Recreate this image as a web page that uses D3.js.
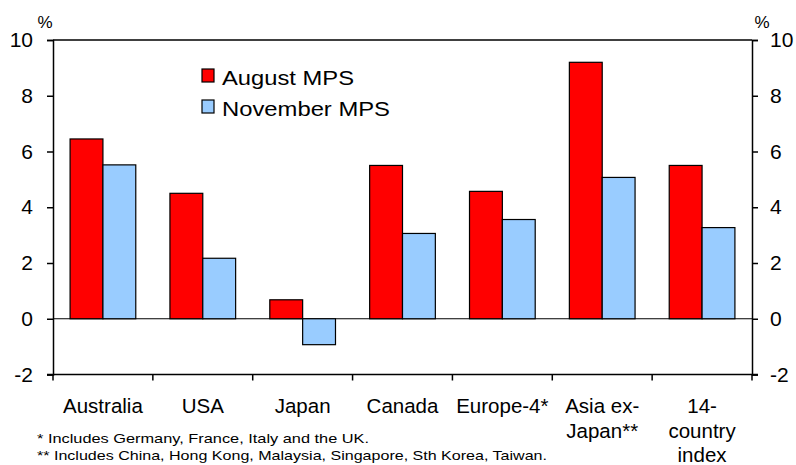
<!DOCTYPE html>
<html><head><meta charset="utf-8">
<script src="https://cdn.jsdelivr.net/npm/d3@7"></script>
<style>body{margin:0;background:#fff}svg{display:block}text{font-family:"Liberation Sans",Arial,sans-serif;fill:#000}</style>
</head><body><svg id="c" width="796" height="465"></svg>
<script>
const categories = ["Australia","USA","Japan","Canada","Europe-4*","Asia ex-\nJapan**","14-\ncountry\nindex"];
const august = [6.45, 4.5, 0.68, 5.5, 4.57, 9.2, 5.5];
const november = [5.52, 2.17, -0.93, 3.06, 3.56, 5.07, 3.27];
const seriesNames = ["August MPS","November MPS"];
const yTicks = [-2,0,2,4,6,8,10];
const footnotes = ["* Includes Germany, France, Italy and the UK.","** Includes China, Hong Kong, Malaysia, Singapore, Sth Korea, Taiwan."];

const colors = ["#FF0000","#99CCFF"];
const svg = d3.select("#c");
const L=53, R=752, T=40, B=374.5;
const x = d3.scaleBand().domain(categories).range([L,R]);
const xs = d3.scaleBand().domain([0,1]).range([0,x.bandwidth()]).paddingInner(0).paddingOuter(0.52);
const y = d3.scaleLinear().domain([-2,10]).range([B,T]);

// frame
svg.append("line").attr("x1",L).attr("x2",R).attr("y1",T).attr("y2",T).attr("stroke","#000").attr("stroke-width",1.5);
svg.append("line").attr("x1",L).attr("x2",R).attr("y1",y(0)).attr("y2",y(0)).attr("stroke","#000").attr("stroke-width",1.2);

const data = [august, november];
data.forEach((vals,si)=>{
  svg.append("g").selectAll("rect").data(vals).join("rect")
    .attr("x",(d,i)=>x(categories[i])+xs(si))
    .attr("width",xs.bandwidth())
    .attr("y",d=>y(Math.max(0,d)))
    .attr("height",d=>Math.abs(y(d)-y(0)))
    .attr("fill",colors[si]).attr("stroke","#000").attr("stroke-width",1.2);
});

// axes
const fmt = d => String(d);
const la = d3.axisLeft(y).tickValues(yTicks).tickFormat(fmt).tickSize(6).tickPadding(5);
const ra = d3.axisRight(y).tickValues(yTicks).tickFormat(fmt).tickSize(6).tickPadding(5);
function styleAxis(g){
  g.select(".domain").attr("stroke","#000").attr("stroke-width",1.5);
  g.selectAll(".tick line").attr("stroke","#000").attr("stroke-width",1.5);
  g.selectAll(".tick text").attr("font-size",21).attr("font-family","Liberation Sans, Arial, sans-serif").attr("fill","#000");
}
const gl = svg.append("g").attr("transform",`translate(${L},0)`).call(la).call(styleAxis);
const gr = svg.append("g").attr("transform",`translate(${R},0)`).call(ra).call(styleAxis);
gl.selectAll(".tick text").attr("x",-20);
gr.selectAll(".tick text").attr("x",18);

// bottom axis with boundary ticks
svg.append("line").attr("x1",L-6).attr("x2",R+6).attr("y1",B).attr("y2",B).attr("stroke","#000").attr("stroke-width",1.5);
const bounds = categories.map(c=>x(c)).concat([R]);
svg.append("g").selectAll("line").data(bounds).join("line")
  .attr("x1",d=>d).attr("x2",d=>d).attr("y1",B).attr("y2",B+6).attr("stroke","#000").attr("stroke-width",1.5);

// category labels
categories.forEach(c=>{
  const lines = c.split("\n");
  const t = svg.append("text").attr("text-anchor","middle").attr("font-size",20.5);
  lines.forEach((ln,i)=>t.append("tspan").attr("x",x(c)+x.bandwidth()/2).attr("y",413+i*24.5).text(ln));
});

// % labels
svg.append("text").attr("x",45).attr("y",28).attr("text-anchor","middle").attr("font-size",17).text("%");
svg.append("text").attr("x",762).attr("y",28).attr("text-anchor","middle").attr("font-size",17).text("%");

// legend
const legW = [132, 168];
seriesNames.forEach((n,i)=>{
  const yy = 69 + i*31;
  svg.append("rect").attr("x",202).attr("y",yy).attr("width",12).attr("height",13).attr("fill",colors[i]).attr("stroke","#000").attr("stroke-width",1.2);
  svg.append("text").attr("x",222).attr("y",yy+16).attr("font-size",21).attr("textLength",legW[i]).attr("lengthAdjust","spacingAndGlyphs").text(n);
});

// footnotes
const fl = [332, 510];
footnotes.forEach((f,i)=>{
  svg.append("text").attr("x",37).attr("y",443+i*17).attr("font-size",13.5).attr("textLength",fl[i]).attr("lengthAdjust","spacingAndGlyphs").text(f);
});
</script></body></html>
